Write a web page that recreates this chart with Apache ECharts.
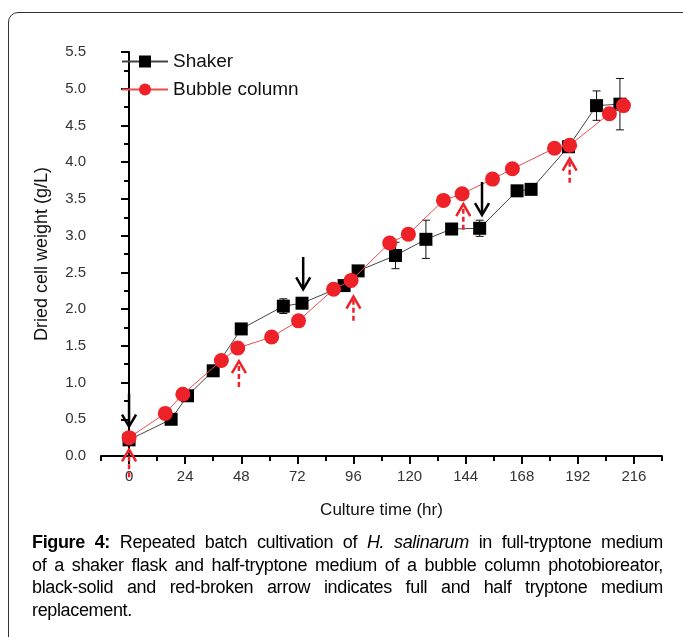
<!DOCTYPE html>
<html>
<head>
<meta charset="utf-8">
<script src="https://cdn.jsdelivr.net/npm/echarts@6/dist/echarts.min.js"></script>
<style>
    body { margin: 0; background: #fff; }
    #frame { position: absolute; left: 8px; top: 12px; width: 720px; height: 680px; border: 1px solid #333; border-radius: 10px; }
    #chart { position: absolute; left: 0; top: 0; width: 683px; height: 637px; }
    #caption { position: absolute; left: 32px; top: 531px; width: 631px; font-family: "Liberation Sans", Arial, sans-serif; font-size: 18px; letter-spacing: -0.35px; line-height: 22.7px; color: #000; }
    #caption div { text-align: justify; text-align-last: justify; white-space: nowrap; }
    #caption div.last { text-align-last: left; }
</style>
</head>
<body>
<div id="frame"></div>
<div id="chart"></div>
<div id="caption">
    <div><b>Figure 4:</b> Repeated batch cultivation of <i>H. salinarum</i> in full-tryptone medium</div>
    <div>of a shaker flask and half-tryptone medium of a bubble column photobioreator,</div>
    <div>black-solid and red-broken arrow indicates full and half tryptone medium</div>
    <div class="last">replacement.</div>
</div>
<script>
// Shaker flask (full tryptone)
var shakerTime = [0, 18, 25, 36, 48, 66, 74, 92, 98, 114, 127, 138, 150, 166, 172, 188, 200, 210];
var shakerDcw = [0.22, 0.50, 0.82, 1.16, 1.73, 2.04, 2.08, 2.32, 2.52, 2.73, 2.95, 3.09, 3.10, 3.61, 3.63, 4.21, 4.77, 4.79];
var shakerSd = [0.03, 0.02, 0.03, 0.02, 0.04, 0.10, 0.03, 0.05, 0.06, 0.18, 0.26, 0.02, 0.11, 0.02, 0.02, 0.03, 0.20, 0.35];

// Bubble column (half tryptone)
var bubbleTime = [0, 15.5, 23, 39.5, 46.5, 61, 72.5, 87.5, 95, 111.5, 119.5, 134.5, 142.5, 155.5, 164, 182, 188.5, 205.5, 211.5];
var bubbleDcw = [0.25, 0.58, 0.84, 1.30, 1.47, 1.62, 1.84, 2.27, 2.39, 2.90, 3.02, 3.48, 3.57, 3.77, 3.91, 4.19, 4.23, 4.66, 4.77];
var bubbleSd = [0, 0, 0, 0, 0, 0, 0, 0, 0.03, 0, 0, 0, 0, 0, 0, 0, 0, 0.08, 0];

// medium replacement arrows: [time, tail, tip]
var fullArrows = [[0, 0.85, 0.40], [74.5, 2.71, 2.27], [151, 3.73, 3.28]];
var halfArrows = [[0, -0.29, 0.09], [47, 0.94, 1.29], [96, 1.84, 2.17], [143, 3.08, 3.43], [188.5, 3.72, 4.05]];

var xMajor = [0, 24, 48, 72, 96, 120, 144, 168, 192, 216];
var xMinor = [-12, 12, 36, 60, 84, 108, 132, 156, 180, 204, 228];

var font = '"Liberation Sans", Arial, sans-serif';

function zip(a, b, c) {
    return a.map(function(v, i) {
        return c ? [v, b[i], c[i]] : [v, b[i]];
    });
}

function errBar(params, api) {
    var x = api.value(0), y = api.value(1), e = api.value(2);
    if (!e) return null;
    var top = api.coord([x, y + e]);
    var bot = api.coord([x, y - e]);
    var st = { stroke: '#111', lineWidth: 1 };
    return {
        type: 'group',
        children: [
            { type: 'line', shape: { x1: top[0], y1: top[1], x2: bot[0], y2: bot[1] }, style: st },
            { type: 'line', shape: { x1: top[0] - 4, y1: top[1], x2: top[0] + 4, y2: top[1] }, style: st },
            { type: 'line', shape: { x1: bot[0] - 4, y1: bot[1], x2: bot[0] + 4, y2: bot[1] }, style: st }
        ]
    };
}

function arrow(color, dashed) {
    return function(params, api) {
        var tail = api.coord([api.value(0), api.value(1)]);
        var tip = api.coord([api.value(0), api.value(2)]);
        var dir = tip[1] > tail[1] ? -1 : 1; // wings go back toward tail
        return {
            type: 'group',
            children: [
                { type: 'line', shape: { x1: tail[0], y1: tail[1], x2: tip[0], y2: tip[1] + dir * 2 },
                  style: { stroke: color, lineWidth: 2.5, lineDash: dashed ? [5, 3] : null } },
                { type: 'polyline', shape: { points: [[tip[0] - 7, tip[1] + dir * 12], tip, [tip[0] + 7, tip[1] + dir * 12]] },
                  style: { stroke: color, lineWidth: 2.5, fill: null } }
            ]
        };
    };
}

var chart = echarts.init(document.getElementById('chart'));
chart.setOption({
    animation: false,
    textStyle: { fontFamily: font },
    grid: { left: 101, right: 21, top: 52, bottom: 181 },
    legend: {
        data: ['Shaker', 'Bubble column'],
        orient: 'vertical',
        left: 116,
        top: 47,
        itemWidth: 46,
        itemHeight: 15,
        itemGap: 9,
        textStyle: { fontSize: 19, color: '#111', fontFamily: font }
    },
    xAxis: [{
        type: 'value',
        min: -12,
        max: 228,
        name: 'Culture time (hr)',
        nameLocation: 'middle',
        nameGap: 46,
        nameTextStyle: { fontSize: 17, color: '#111' },
        axisLine: { lineStyle: { color: '#000', width: 2 } },
        axisTick: { customValues: xMajor, length: 8, lineStyle: { color: '#000', width: 2 } },
        axisLabel: { customValues: xMajor, fontSize: 15, color: '#333', margin: 13 },
        splitLine: { show: false }
    }, {
        type: 'value',
        min: -12,
        max: 228,
        position: 'bottom',
        axisLine: { show: false },
        axisTick: { customValues: xMinor, length: 5, lineStyle: { color: '#000', width: 2 } },
        axisLabel: { show: false },
        splitLine: { show: false }
    }],
    yAxis: {
        type: 'value',
        min: 0,
        max: 5.5,
        interval: 0.5,
        name: 'Dried cell weight (g/L)',
        nameLocation: 'middle',
        nameGap: 50,
        nameTextStyle: { fontSize: 18, color: '#111' },
        axisLine: { show: true, lineStyle: { color: '#000', width: 2 } },
        axisTick: { length: 8, lineStyle: { color: '#000', width: 2 } },
        minorTick: { show: true, splitNumber: 2, length: 5, lineStyle: { color: '#000', width: 2 } },
        axisLabel: { fontSize: 15, color: '#333', margin: 15, formatter: function(v) { return v.toFixed(1); } },
        splitLine: { show: false }
    },
    series: [{
        name: 'Shaker',
        type: 'line',
        data: zip(shakerTime, shakerDcw),
        symbol: 'rect',
        symbolSize: 13,
        itemStyle: { color: '#000' },
        lineStyle: { color: '#444', width: 1 },
        z: 3
    }, {
        name: 'Bubble column',
        type: 'line',
        data: zip(bubbleTime, bubbleDcw),
        symbol: 'circle',
        symbolSize: 15,
        itemStyle: { color: '#ee2128' },
        lineStyle: { color: '#f04a4a', width: 1 },
        z: 4
    }, {
        type: 'custom',
        renderItem: errBar,
        data: zip(shakerTime, shakerDcw, shakerSd),
        clip: false,
        z: 2
    }, {
        type: 'custom',
        renderItem: errBar,
        data: zip(bubbleTime, bubbleDcw, bubbleSd),
        clip: false,
        z: 2
    }, {
        type: 'custom',
        renderItem: arrow('#000', false),
        data: fullArrows,
        clip: false,
        z: 5
    }, {
        type: 'custom',
        renderItem: arrow('#ee2128', true),
        data: halfArrows,
        clip: false,
        z: 5
    }]
});
</script>
</body>
</html>
